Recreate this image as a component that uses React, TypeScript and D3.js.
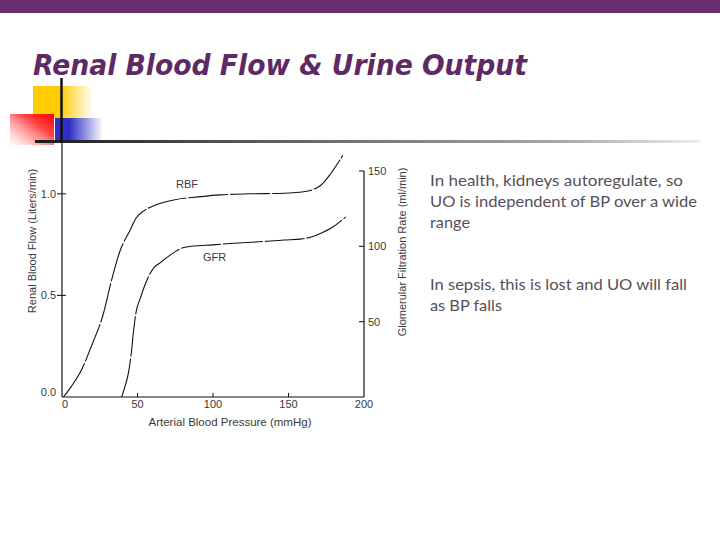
import * as d3 from 'd3';
import React from 'react';

// arterial pressure (mmHg) vs renal blood flow (L/min)
const rbfPressure = [1, 6, 12, 20, 27, 33, 38, 45, 49, 55, 62, 74, 90, 105, 125, 147, 160, 171, 178, 186];
const rbfValues = [0, 0.05, 0.12, 0.26, 0.4, 0.58, 0.71, 0.82, 0.88, 0.92, 0.945, 0.97, 0.985, 0.995, 1.0, 1.003, 1.01, 1.04, 1.1, 1.19];

// arterial pressure (mmHg) vs glomerular filtration rate (ml/min)
const gfrPressure = [39.5, 42, 44, 46, 47.5, 49, 52, 56, 61, 65, 70, 75, 80, 87, 100, 113, 130, 147, 158, 166, 172, 178, 188];
const gfrValues = [0, 8, 16, 30, 45, 56, 66, 77, 86, 89, 93, 96.5, 99, 100.2, 101, 102, 103, 104.2, 104.8, 106.5, 109, 112, 119.6];

const xTicks = [0, 50, 100, 150, 200];
const leftTicks = [0, 0.5, 1.0];
const rightTicks = [50, 100, 150];

const bulletLines1 = ['In health, kidneys autoregulate, so', 'UO is independent of BP over a wide', 'range'];
const bulletLines2 = ['In sepsis, this is lost and UO will fall', 'as BP falls'];
const bulletWidths1 = [253, 267, 40];
const bulletWidths2 = [257, 72];

const W = 720;
const H = 540;

export default function App() {
  const x = d3.scaleLinear().domain([0, 200]).range([62, 364]);
  const yRbf = d3.scaleLinear().domain([0, 1.26]).range([397, 141]);
  const yGfr = d3.scaleLinear().domain([0, 150]).range([397, 171]);

  const rbfLine = d3.line<number>()
    .x((d, i) => x(rbfPressure[i]))
    .y(d => yRbf(d))
    .curve(d3.curveMonotoneX);
  const gfrLine = d3.line<number>()
    .x((d, i) => x(gfrPressure[i]))
    .y(d => yGfr(d))
    .curve(d3.curveMonotoneX);

  const axisFont = '"Liberation Sans", Arial, sans-serif';
  const axisColor = '#3a3a3a';

  return (
    <div style={{ position: 'absolute', left: 0, top: 0 }}>
      <svg width={W} height={H} style={{ display: 'block', background: '#fff' }}>
        <defs>
          <linearGradient id="yellowFade" x1="0" x2="1" y1="0" y2="0">
            <stop offset="0" stopColor="#ffcc00" stopOpacity="1" />
            <stop offset="0.45" stopColor="#ffcc00" stopOpacity="1" />
            <stop offset="1" stopColor="#ffcc00" stopOpacity="0" />
          </linearGradient>
          <linearGradient id="blueFade" x1="0" x2="1" y1="0" y2="0">
            <stop offset="0" stopColor="#3030c8" stopOpacity="1" />
            <stop offset="0.3" stopColor="#3030c8" stopOpacity="1" />
            <stop offset="1" stopColor="#3030c8" stopOpacity="0" />
          </linearGradient>
          <linearGradient id="redFade" x1="1" x2="0" y1="0" y2="1">
            <stop offset="0" stopColor="#ff0000" stopOpacity="1" />
            <stop offset="0.35" stopColor="#ff2020" stopOpacity="0.85" />
            <stop offset="1" stopColor="#ff9090" stopOpacity="0.05" />
          </linearGradient>
          <linearGradient id="ruleFade" x1="0" x2="1" y1="0" y2="0">
            <stop offset="0" stopColor="#1a1a1a" />
            <stop offset="0.3" stopColor="#555" />
            <stop offset="0.8" stopColor="#aaa" />
            <stop offset="1" stopColor="#eee" />
          </linearGradient>
        </defs>

        {/* slide frame */}
        <rect x={0} y={0} width={W} height={13} fill="#6a2d70" />
        <text x={33} y={75} fill="#5e2a66" fontFamily='"DejaVu Sans", Verdana, sans-serif'
          fontWeight="bold" fontStyle="italic" fontSize={28}
          textLength={494} lengthAdjust="spacingAndGlyphs">Renal Blood Flow &amp; Urine Output</text>

        <rect x={33} y={86} width={60} height={32} fill="url(#yellowFade)" />
        <rect x={55} y={118} width={48} height={24} fill="url(#blueFade)" />
        <rect x={10} y={114} width={44} height={31} fill="url(#redFade)" />
        <rect x={35} y={140} width={665} height={3} fill="url(#ruleFade)" />
        <line x1={61.5} x2={61.5} y1={78} y2={142} stroke="#111" strokeWidth={2.5} />

        {/* axes */}
        <line x1={x(0)} x2={x(0)} y1={yRbf(1.26)} y2={yRbf(0)} stroke="#111" strokeWidth={1.2} />
        <line x1={x(0)} x2={x(200)} y1={yRbf(0)} y2={yRbf(0)} stroke="#111" strokeWidth={1.2} />
        <line x1={x(200)} x2={x(200)} y1={yGfr(150)} y2={yGfr(0)} stroke="#111" strokeWidth={1.2} />

        {leftTicks.map(t => (
          <g key={'l' + t}>
            {t > 0 && <line x1={x(0) - 5} x2={x(0) + 4} y1={yRbf(t)} y2={yRbf(t)} stroke="#111" strokeWidth={1} />}
            <text x={x(0) - 6} y={yRbf(t) + (t === 0 ? -1 : 4)} textAnchor="end" fontFamily={axisFont}
              fontSize={11} fill={axisColor}>{t.toFixed(1)}</text>
          </g>
        ))}

        {xTicks.map(t => (
          <g key={'x' + t}>
            {t > 0 && t < 200 && <line x1={x(t)} x2={x(t)} y1={yRbf(0)} y2={yRbf(0) - 4} stroke="#111" strokeWidth={1} />}
            <text x={x(t) + (t === 0 ? 3 : 0)} y={yRbf(0) + 11} textAnchor="middle" fontFamily={axisFont}
              fontSize={11} fill={axisColor}>{t}</text>
          </g>
        ))}

        {rightTicks.map(t => (
          <g key={'r' + t}>
            <line x1={x(200) - 5} x2={x(200)} y1={yGfr(t)} y2={yGfr(t)} stroke="#111" strokeWidth={1} />
            <text x={x(200) + 4} y={yGfr(t) + 4} textAnchor="start" fontFamily={axisFont}
              fontSize={11} fill={axisColor}>{t}</text>
          </g>
        ))}

        <text transform="translate(36,241) rotate(-90)" textAnchor="middle" fontFamily={axisFont}
          fontSize={11} fill={axisColor}>Renal Blood Flow (Liters/min)</text>
        <text transform="translate(406,252) rotate(-90)" textAnchor="middle" fontFamily={axisFont}
          fontSize={11} fill={axisColor}>Glomerular Filtration Rate (ml/min)</text>
        <text x={230} y={426} textAnchor="middle" fontFamily={axisFont}
          fontSize={11.5} fill={axisColor}>Arterial Blood Pressure (mmHg)</text>

        {/* curves */}
        <path d={rbfLine(rbfValues) ?? ''} fill="none" stroke="#111" strokeWidth={1.1} strokeDasharray="40 2" />
        <path d={gfrLine(gfrValues) ?? ''} fill="none" stroke="#111" strokeWidth={1.1} strokeDasharray="40 2" />

        <text x={176} y={188} fontFamily={axisFont} fontSize={11} fill={axisColor}>RBF</text>
        <text x={203} y={261} fontFamily={axisFont} fontSize={11} fill={axisColor}>GFR</text>

        {/* bullet text */}
        {bulletLines1.map((s, i) => (
          <text key={'a' + i} x={430} y={186 + i * 21} fontFamily='Lato, "Open Sans", sans-serif' fontSize={16}
            fill="#55505a" textLength={bulletWidths1[i]} lengthAdjust="spacingAndGlyphs">{s}</text>
        ))}
        {bulletLines2.map((s, i) => (
          <text key={'b' + i} x={430} y={290 + i * 21} fontFamily='Lato, "Open Sans", sans-serif' fontSize={16}
            fill="#55505a" textLength={bulletWidths2[i]} lengthAdjust="spacingAndGlyphs">{s}</text>
        ))}
      </svg>
    </div>
  );
}
